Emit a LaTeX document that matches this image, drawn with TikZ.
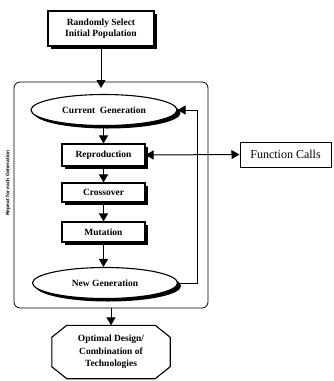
\documentclass[tikz,border=0pt]{standalone}
\usepackage{fontspec}
\setmainfont{Liberation Serif}
\setsansfont{Liberation Sans}
\usetikzlibrary{arrows.meta,shadows,shapes.geometric,backgrounds}
\begin{document}
\begin{tikzpicture}[x=1pt,y=-1pt,
  shade/.style={drop shadow={shadow xshift=2.5pt,shadow yshift=-2.5pt,opacity=1,fill=black}},
  box/.style={draw,line width=1.1pt,fill=white,align=center,inner sep=0pt,
    font=\fontsize{9.5}{11}\selectfont\bfseries,shade},
  oval/.style={box,ellipse,drop shadow={shadow xshift=3.5pt,shadow yshift=-3pt,opacity=1,fill=black}},
  arr/.style={line width=1pt,-{Triangle[width=9pt,length=8pt]}},
  darr/.style={line width=1pt,{Triangle[width=9pt,length=8pt]}-{Triangle[width=9pt,length=8pt]}},
]
\useasboundingbox (0,0) rectangle (333,381);

\node[draw,line width=0.8pt,rounded corners=6pt,minimum width=194pt,minimum height=226pt,inner sep=0pt] (rep-frame) at (111,195) {};
\node[rotate=90,font=\sffamily\bfseries\fontsize{5}{6}\selectfont] (lbl) at (8,183) {Repeat for each Generation};

\node[box,minimum width=106pt,minimum height=35pt] (top) at (101,28.5) {Randomly Select\\Initial Population};
\node[oval,minimum width=146pt,minimum height=31pt] (cur) at (104,110) {Current\ \ Generation};
\node[box,minimum width=83pt,minimum height=22pt] (repro) at (103.5,155) {Reproduction};
\node[box,minimum width=83pt,minimum height=19pt] (cross) at (103.5,192.5) {Crossover};
\node[box,minimum width=83pt,minimum height=20pt] (mut) at (103.5,232) {Mutation};
\node[oval,minimum width=145pt,minimum height=31pt] (newg) at (105,283) {New Generation};
\node[draw,line width=1pt,fill=white,minimum width=91pt,minimum height=25pt,inner sep=0pt,
  font=\fontsize{12}{14}\selectfont,
  drop shadow={shadow xshift=1.2pt,shadow yshift=-1.2pt,opacity=1,fill=black}] (func) at (285.5,154.5) {Function Calls};

\node[minimum width=118pt,minimum height=53pt,inner sep=0pt,align=center,
  font=\fontsize{9.5}{12.5}\selectfont\bfseries] (opt) at (111,352) {Optimal Design/\\Combination of\\Technologies};
\newcommand\octpath{([xshift=15pt]opt.north west) -- ([xshift=-15pt]opt.north east) -- ([yshift=-12pt]opt.north east) -- ([yshift=12pt]opt.south east) -- ([xshift=-15pt]opt.south east) -- ([xshift=15pt]opt.south west) -- ([yshift=12pt]opt.south west) -- ([yshift=-12pt]opt.north west) -- cycle}
\begin{pgfonlayer}{background}
\fill[black,xshift=1.8pt,yshift=-1.8pt] \octpath;
\draw[fill=white,line width=1.1pt] \octpath;
\end{pgfonlayer}

\coordinate (tin) at (101,88);
\coordinate (lp) at (197,0);
\draw[arr] (top.south) -- (tin);
\draw[arr] (cur.south -| repro.north) -- (repro.north);
\draw[arr] (repro.south) -- (cross.north);
\draw[arr] (cross.south) -- (mut.north);
\draw[arr] (mut.south) -- (newg.north -| mut.south);
\draw[arr] (newg.east) -- (newg.east -| lp) -- (cur.east -| lp) -- (cur.east);
\draw[darr] (repro.east) -- (func.west);
\draw[arr] (rep-frame.south) -- (opt.north);
\end{tikzpicture}
\end{document}
